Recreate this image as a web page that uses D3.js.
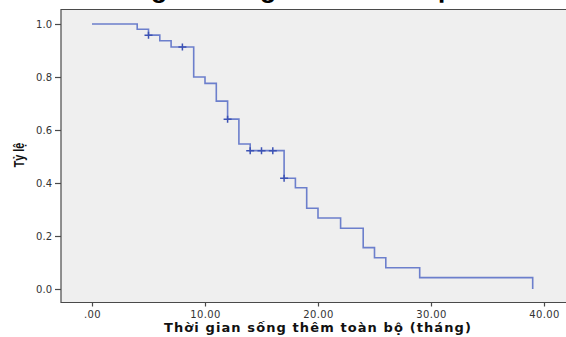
<!DOCTYPE html>
<html><head><meta charset="utf-8">
<script src="https://cdn.jsdelivr.net/npm/d3@7/dist/d3.min.js"></script>
<style>
html,body{margin:0;padding:0;background:#fff;}
svg{display:block;}
</style></head>
<body>
<svg id="chart" width="566" height="337"></svg>
<script>
// Kaplan–Meier step data (time in months, survival proportion)
const times    = [0, 4, 5, 6, 7, 9, 10, 11, 12, 13, 14, 17, 18, 19, 20, 22, 24, 25, 26, 29, 39];
const survival = [1.0, 0.980, 0.958, 0.937, 0.913, 0.800, 0.776, 0.709, 0.641, 0.547, 0.522, 0.418, 0.382, 0.305, 0.268, 0.229, 0.156, 0.118, 0.080, 0.043, 0.0];
// censored observations
const censorTimes = [5, 8, 12, 14, 15, 16, 17];
const censorSurv  = [0.958, 0.913, 0.641, 0.522, 0.522, 0.522, 0.418];
// axis ticks
const xTicks = [0, 10, 20, 30, 40];
const xTickLabels = [".00", "10.00", "20.00", "30.00", "40.00"];
const yTicks = [0, 0.2, 0.4, 0.6, 0.8, 1.0];
const yTickLabels = ["0.0", "0.2", "0.4", "0.6", "0.8", "1.0"];
const titleText = "Thời gian sống thêm toàn bộ";
const xTitle = "Thời gian sống thêm toàn bộ (tháng)";
const yTitle = "Tỷ lệ";

const svg = d3.select("#chart");
const frame = {left: 61, top: 9.5, right: 590, bottom: 302.5};

const x = d3.scaleLinear().domain([0, 40]).range([92, 544]);
const y = d3.scaleLinear().domain([0, 1]).range([289, 24]);

// title (cut off at the top edge, as in the reference)
svg.append("text")
  .attr("x", 85).attr("y", -2)
  .attr("font-family", "Liberation Sans, Arial, sans-serif")
  .attr("font-weight", "bold").attr("font-size", 26.5)
  .attr("fill", "#000")
  .text(titleText);

// plot background
svg.append("rect")
  .attr("x", frame.left).attr("y", frame.top)
  .attr("width", frame.right - frame.left).attr("height", frame.bottom - frame.top)
  .attr("fill", "#efefef");

// frame lines
svg.append("path")
  .attr("d", `M${frame.right},${frame.top}H${frame.left}V${frame.bottom}H${frame.right}`)
  .attr("fill", "none").attr("stroke", "#4a4a4a").attr("stroke-width", 1.2);

// y axis
const yAxis = d3.axisLeft(y).tickValues(yTicks).tickSize(6).tickPadding(3)
  .tickFormat((d, i) => yTickLabels[i]);
const gy = svg.append("g").attr("transform", `translate(${frame.left},0)`).call(yAxis);
gy.select(".domain").remove();
gy.selectAll(".tick line").attr("stroke", "#4a4a4a").attr("stroke-width", 1.2);
gy.selectAll(".tick text").attr("font-family", "DejaVu Sans, sans-serif")
  .attr("font-size", 10).attr("fill", "#333");

// x axis
const xAxis = d3.axisBottom(x).tickValues(xTicks).tickSize(4).tickPadding(4)
  .tickFormat((d, i) => xTickLabels[i]);
const gx = svg.append("g").attr("transform", `translate(0,${frame.bottom})`).call(xAxis);
gx.select(".domain").remove();
gx.selectAll(".tick line").attr("stroke", "#4a4a4a").attr("stroke-width", 1.2);
gx.selectAll(".tick text").attr("font-family", "DejaVu Sans, sans-serif")
  .attr("font-size", 10).attr("letter-spacing", 0.4).attr("fill", "#333");

// survival curve
const pts = times.map((t, i) => [t, survival[i]]);
const line = d3.line().x(d => x(d[0])).y(d => y(d[1])).curve(d3.curveStepAfter);
svg.append("path").datum(pts)
  .attr("d", line)
  .attr("fill", "none").attr("stroke", "#5d72c8").attr("stroke-width", 1.6)
  .attr("stroke-opacity", 0.9);

// censor marks
const cg = svg.append("g");
censorTimes.forEach((t, i) => {
  const cx = x(t), cy = y(censorSurv[i]);
  cg.append("path")
    .attr("d", `M${cx - 4},${cy}H${cx + 4}M${cx},${cy - 3.5}V${cy + 3.5}`)
    .attr("stroke", "#3c52b4").attr("stroke-width", 1.5).attr("fill", "none");
});

// axis titles
svg.append("text")
  .attr("x", 318).attr("y", 332)
  .attr("text-anchor", "middle")
  .attr("font-family", "DejaVu Sans, sans-serif")
  .attr("font-weight", "bold").attr("font-size", 13)
  .attr("letter-spacing", 1.1)
  .attr("fill", "#111")
  .text(xTitle);

svg.append("text")
  .attr("transform", "translate(24,155) rotate(-90) scale(0.72,1)")
  .attr("text-anchor", "middle")
  .attr("font-family", "Liberation Sans, Arial, sans-serif")
  .attr("font-weight", "bold").attr("font-size", 15)
  .attr("fill", "#111")
  .text(yTitle);
</script>
</body></html>
